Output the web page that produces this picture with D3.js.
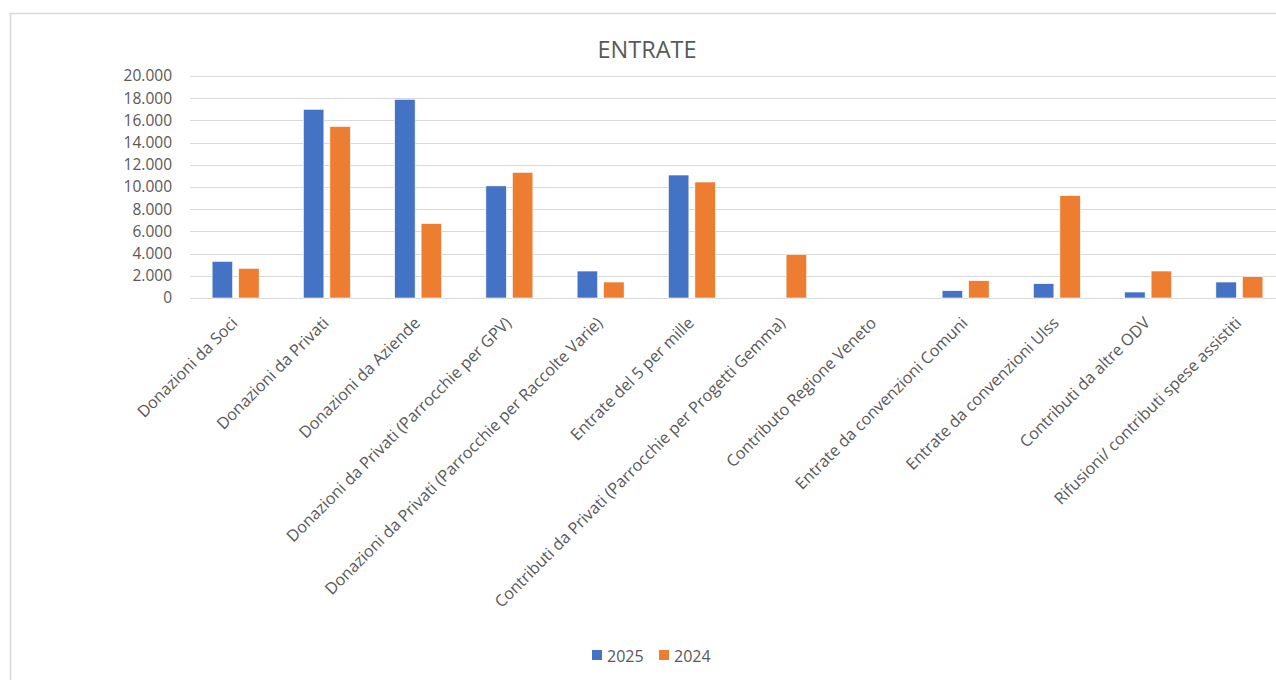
<!DOCTYPE html>
<html>
<head>
<meta charset="utf-8">
<script src="https://cdn.jsdelivr.net/npm/d3@7"></script>
<style>
  html, body { margin: 0; padding: 0; background: #fff; }
  svg { display: block; }
  text { font-family: "Open Sans", "Noto Sans", sans-serif; fill: #595959; }
</style>
</head>
<body>
<svg id="chart" width="1276" height="680"></svg>
<script>
const title = "ENTRATE";
const categories = [
  "Donazioni da Soci",
  "Donazioni da Privati",
  "Donazioni da Aziende",
  "Donazioni da Privati (Parrocchie per GPV)",
  "Donazioni da Privati (Parrocchie per Raccolte Varie)",
  "Entrate del 5 per mille",
  "Contributi da Privati (Parrocchie per Progetti Gemma)",
  "Contributo Regione Veneto",
  "Entrate da convenzioni Comuni",
  "Entrate da convenzioni Ulss",
  "Contributi da altre ODV",
  "Rifusioni/ contributi spese assistiti"
];
const seriesNames = ["2025", "2024"];
const values2025 = [3300, 17000, 17900, 10100, 2430, 11080, 0, 0, 660, 1290, 540, 1440];
const values2024 = [2670, 15450, 6700, 11320, 1440, 10450, 3930, 0, 1560, 9220, 2430, 1920];
const yTicks = [0, 2000, 4000, 6000, 8000, 10000, 12000, 14000, 16000, 18000, 20000];
const colors = ["#4472C4", "#ED7D31"];

const seriesValues = [values2025, values2024];
const rows = categories.map((c, i) => ({ cat: c, vals: seriesValues.map(s => s[i]) }));

const svg = d3.select("#chart");

// chart border
svg.append("rect")
  .attr("x", 10.5).attr("y", 13.5)
  .attr("width", 1300).attr("height", 720)
  .attr("fill", "none").attr("stroke", "#d9d9d9").attr("stroke-width", 1.5);

const x0 = d3.scaleBand().domain(categories).range([190, 1285]).paddingInner(0.485).paddingOuter(0.2425);
const x1 = d3.scaleBand().domain(seriesNames).range([0, x0.bandwidth()]).paddingInner(0.226);
const y = d3.scaleLinear().domain([0, 20000]).range([298, 76]);

const locale = d3.formatLocale({ decimal: ",", thousands: ".", grouping: [3], currency: ["€", ""] });
const fmt = locale.format(",");

// gridlines
svg.append("g")
  .selectAll("line").data(yTicks).join("line")
  .attr("x1", 190).attr("x2", 1285)
  .attr("y1", d => Math.round(y(d)) + 0.5).attr("y2", d => Math.round(y(d)) + 0.5)
  .attr("stroke", "#d9d9d9").attr("stroke-width", 1.2);

// y axis labels
const yAxis = d3.axisLeft(y).tickValues(yTicks).tickFormat(fmt).tickSize(0).tickPadding(18);
const yg = svg.append("g").attr("transform", "translate(190,0)").call(yAxis);
yg.select(".domain").remove();
yg.selectAll("text").style("font-size", "15.5px").style("fill", "#595959")
  .style("font-family", "'Open Sans', 'Noto Sans', sans-serif");

// bars
const groups = svg.append("g").selectAll("g").data(rows).join("g")
  .attr("transform", d => `translate(${x0(d.cat)},0)`);
groups.selectAll("rect").data(d => d.vals.map((v, i) => ({ key: seriesNames[i], v, i })))
  .join("rect")
  .attr("x", d => x1(d.key))
  .attr("width", x1.bandwidth())
  .attr("y", d => y(d.v))
  .attr("height", d => y(0) - y(d.v))
  .attr("fill", d => colors[d.i])
  .attr("stroke", "#ffffff").attr("stroke-width", 0.6)
  .style("display", d => d.v > 0 ? null : "none");

// x axis labels
svg.append("g").selectAll("text").data(categories).join("text")
  .attr("transform", d => `translate(${x0(d) + x0.bandwidth() / 2 + 3},324) rotate(-45)`)
  .attr("text-anchor", "end")
  .style("font-size", "16.2px")
  .text(d => d);

// title
svg.append("text")
  .attr("x", 647).attr("y", 58)
  .attr("text-anchor", "middle")
  .style("font-size", "23.5px")
  .text(title);

// legend
const legendItems = [{ name: seriesNames[0], x: 592 }, { name: seriesNames[1], x: 659 }];
const lg = svg.append("g").selectAll("g").data(legendItems).join("g")
  .attr("transform", d => `translate(${d.x},650)`);
lg.append("rect").attr("width", 10).attr("height", 10).attr("fill", (d, i) => colors[i]);
lg.append("text").attr("x", 15).attr("y", 11.5).style("font-size", "16px").text(d => d.name);
</script>
</body>
</html>
